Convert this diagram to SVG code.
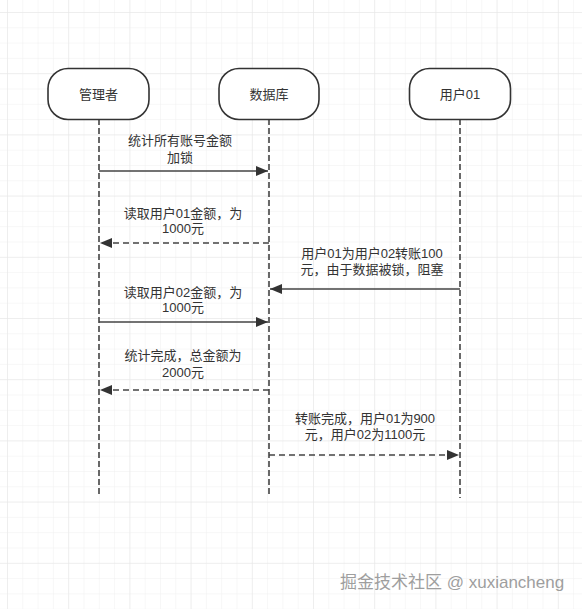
<svg xmlns="http://www.w3.org/2000/svg" width="582" height="609" viewBox="0 0 582 609">
<defs>
<pattern id="grid" x="7" y="12" width="15.3" height="15.3" patternUnits="userSpaceOnUse">
<path d="M0 0H15.3M0 0V15.3" fill="none" stroke="#efefef" stroke-width="1"/>
</pattern>
<pattern id="gridMajor" x="7" y="12" width="61.2" height="61.2" patternUnits="userSpaceOnUse">
<path d="M0 0H61.2M0 0V61.2" fill="none" stroke="#e6e6e6" stroke-width="1"/>
</pattern>
<marker id="arr" viewBox="0 0 12 10" refX="12" refY="5" markerWidth="12" markerHeight="10" markerUnits="userSpaceOnUse" orient="auto">
<path d="M0 0L12 5L0 10Z" fill="#333"/>
</marker>
</defs>
<style>
.box{fill:#fff;stroke:#333;stroke-width:1.6}
.life{stroke:#444;stroke-width:1.6;stroke-dasharray:6 3;fill:none}
.msg{stroke:#444;stroke-width:1.6;fill:none}
.ret{stroke:#444;stroke-width:1.6;fill:none;stroke-dasharray:6 4}
text{font-family:"Liberation Sans","Noto Sans CJK SC",sans-serif;font-size:13px;fill:#333;text-anchor:middle;dominant-baseline:central}
.wm{font-size:17px;fill:#9e9e9e;text-anchor:start}
</style>
<rect width="582" height="609" fill="#fff"/>
<rect width="582" height="609" fill="url(#grid)"/>
<rect width="582" height="609" fill="url(#gridMajor)"/>
<g id="lifelines">
<line class="life" x1="99" y1="119" x2="99" y2="494"/>
<line class="life" x1="269" y1="119" x2="269" y2="494"/>
<line class="life" x1="460" y1="119" x2="460" y2="498"/>
</g>
<g id="node-manager">
<rect class="box" x="48" y="68.5" width="101" height="51" rx="20" ry="20"/>
<text x="98.5" y="94">管理者</text>
</g>
<g id="node-db">
<rect class="box" x="219" y="68.5" width="100" height="51" rx="20" ry="20"/>
<text x="269" y="94">数据库</text>
</g>
<g id="node-user01">
<rect class="box" x="409.5" y="68.5" width="101" height="51" rx="20" ry="20"/>
<text x="460" y="94">用户01</text>
</g>
<g id="connectors">
<line class="msg" x1="99" y1="171" x2="268" y2="171" marker-end="url(#arr)"/>
<text x="180" y="140">统计所有账号金额</text>
<text x="180" y="157">加锁</text>
<line class="ret" x1="269" y1="243" x2="100" y2="243" marker-end="url(#arr)"/>
<text x="183" y="213">读取用户01金额，为</text>
<text x="183" y="228.5">1000元</text>
<line class="msg" x1="460" y1="289" x2="270" y2="289" marker-end="url(#arr)"/>
<text x="372" y="253">用户01为用户02转账100</text>
<text x="372" y="269">元，由于数据被锁，阻塞</text>
<line class="msg" x1="99" y1="322" x2="268" y2="322" marker-end="url(#arr)"/>
<text x="183" y="292">读取用户02金额，为</text>
<text x="183" y="307.5">1000元</text>
<line class="ret" x1="269" y1="390" x2="100" y2="390" marker-end="url(#arr)"/>
<text x="183" y="355">统计完成，总金额为</text>
<text x="183" y="372">2000元</text>
<line class="ret" x1="269" y1="455" x2="459" y2="455" marker-end="url(#arr)"/>
<text x="365" y="418">转账完成，用户01为900</text>
<text x="365" y="434">元，用户02为1100元</text>
</g>
<text class="wm" x="340" y="582">掘金技术社区 @ xuxiancheng</text>
</svg>
